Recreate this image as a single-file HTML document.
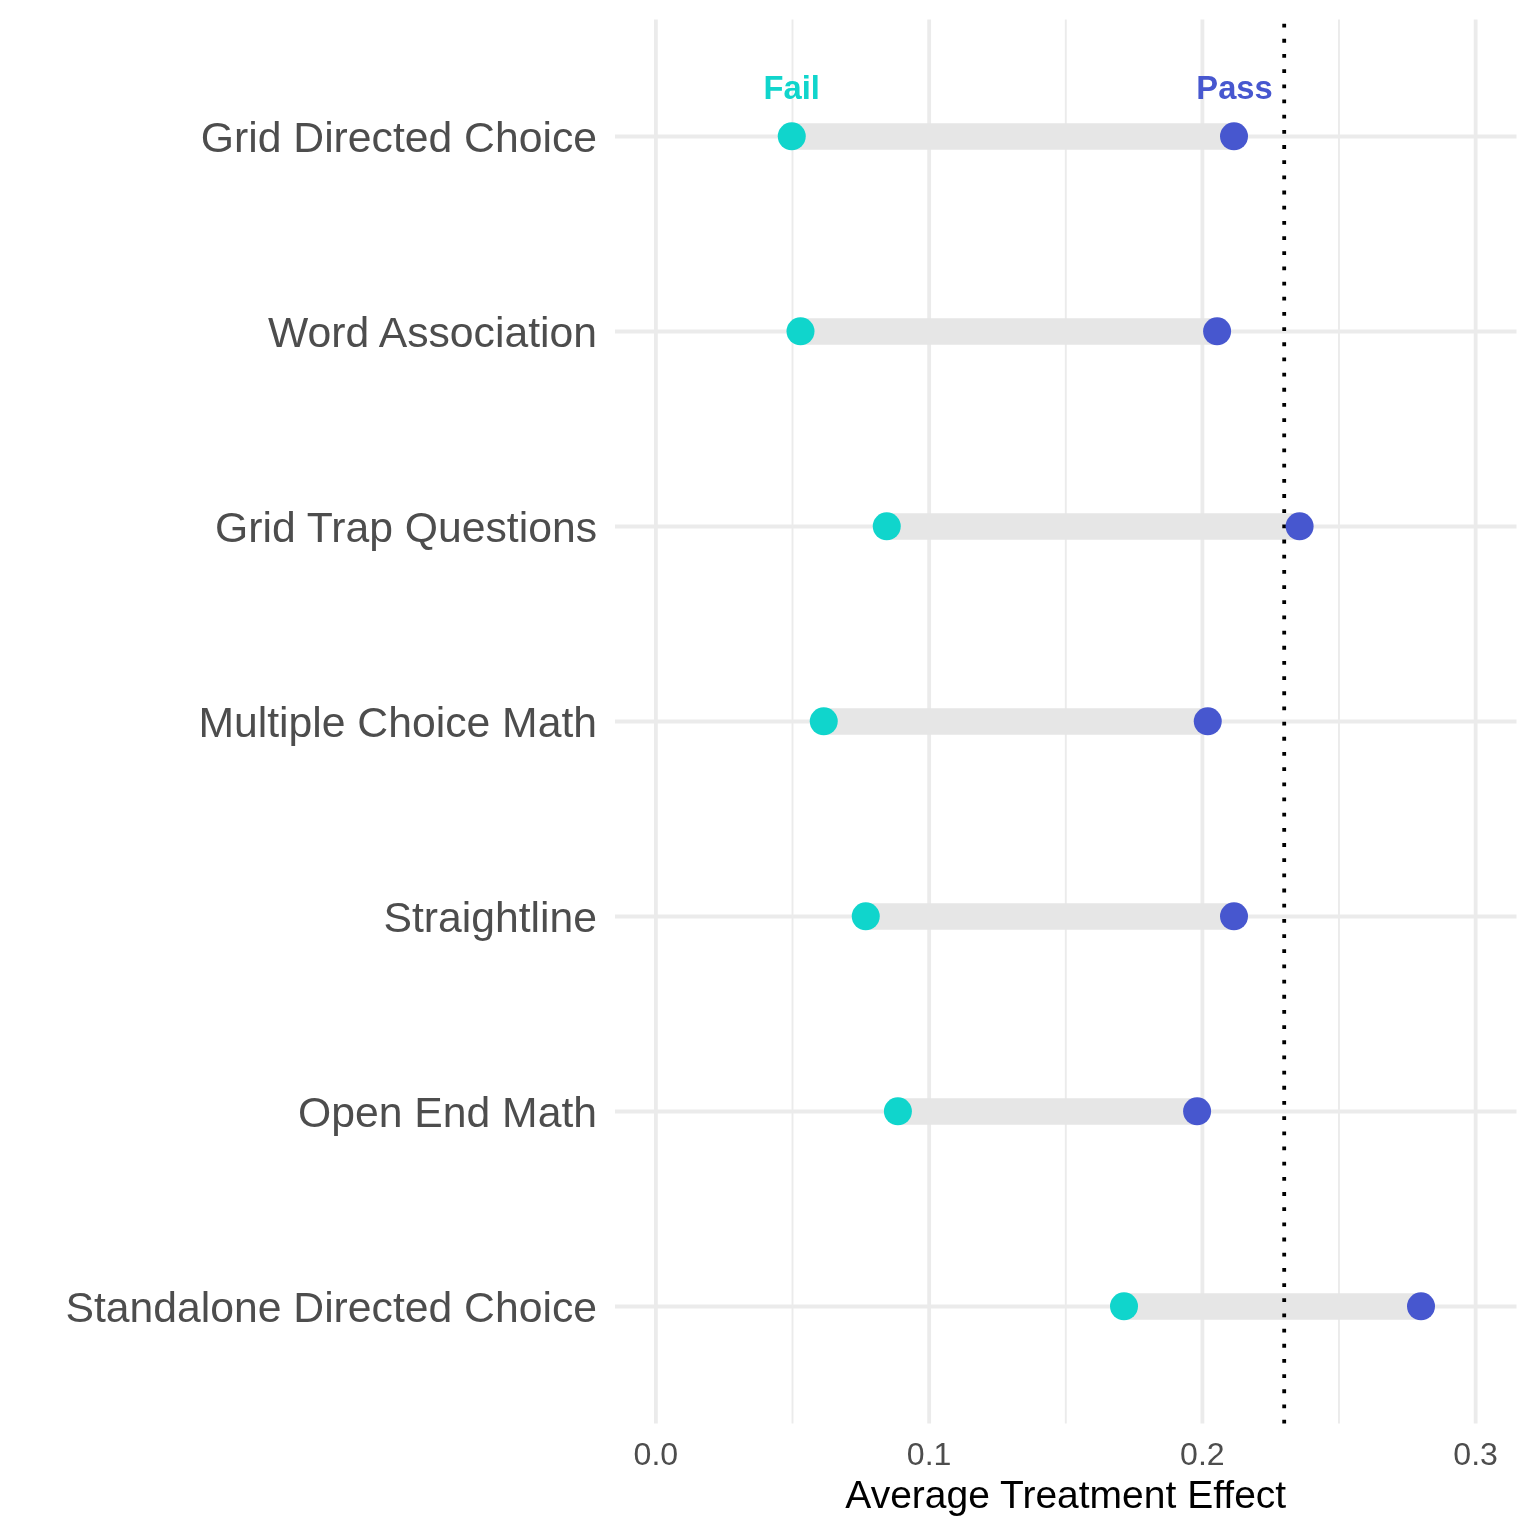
<!DOCTYPE html>
<html><head><meta charset="utf-8"><title>Average Treatment Effect</title>
<style>html,body{margin:0;padding:0;background:#fff}svg{display:block}text{font-family:"Liberation Sans",Arial,Helvetica,sans-serif}</style></head><body>
<svg width="1536" height="1536" viewBox="0 0 1536 1536">
<rect width="1536" height="1536" fill="#fff"/>
<g stroke="#ebebeb" fill="none">
<line x1="792.5" x2="792.5" y1="19.5" y2="1423.5" stroke-width="1.9"/>
<line x1="1065.8" x2="1065.8" y1="19.5" y2="1423.5" stroke-width="1.9"/>
<line x1="1339.0" x2="1339.0" y1="19.5" y2="1423.5" stroke-width="1.9"/>
<line x1="655.9" x2="655.9" y1="19.5" y2="1423.5" stroke-width="3.8"/>
<line x1="929.15" x2="929.15" y1="19.5" y2="1423.5" stroke-width="3.8"/>
<line x1="1202.4" x2="1202.4" y1="19.5" y2="1423.5" stroke-width="3.8"/>
<line x1="1475.65" x2="1475.65" y1="19.5" y2="1423.5" stroke-width="3.8"/>
<line x1="615" x2="1516.5" y1="136.50" y2="136.50" stroke-width="3.8"/>
<line x1="615" x2="1516.5" y1="331.50" y2="331.50" stroke-width="3.8"/>
<line x1="615" x2="1516.5" y1="526.50" y2="526.50" stroke-width="3.8"/>
<line x1="615" x2="1516.5" y1="721.50" y2="721.50" stroke-width="3.8"/>
<line x1="615" x2="1516.5" y1="916.50" y2="916.50" stroke-width="3.8"/>
<line x1="615" x2="1516.5" y1="1111.50" y2="1111.50" stroke-width="3.8"/>
<line x1="615" x2="1516.5" y1="1306.50" y2="1306.50" stroke-width="3.8"/>
</g>
<g stroke="#e6e6e6" stroke-width="26.5">
<line x1="791.75" x2="1234" y1="136.50" y2="136.50"/>
<line x1="800.5" x2="1217.1" y1="331.50" y2="331.50"/>
<line x1="886.75" x2="1299.6" y1="526.50" y2="526.50"/>
<line x1="823.75" x2="1207.75" y1="721.50" y2="721.50"/>
<line x1="865.75" x2="1234" y1="916.50" y2="916.50"/>
<line x1="897.9" x2="1197.1" y1="1111.50" y2="1111.50"/>
<line x1="1124" x2="1421" y1="1306.50" y2="1306.50"/>
</g>
<line x1="1284.2" x2="1284.2" y1="1423.5" y2="19.5" stroke="#000" stroke-width="3.8" stroke-dasharray="3.8 11.374"/>
<circle cx="791.75" cy="136.30" r="14.0" fill="#10d5cc"/><circle cx="1234" cy="136.30" r="14.0" fill="#4757cf"/>
<circle cx="800.5" cy="331.30" r="14.0" fill="#10d5cc"/><circle cx="1217.1" cy="331.30" r="14.0" fill="#4757cf"/>
<circle cx="886.75" cy="526.30" r="14.0" fill="#10d5cc"/><circle cx="1299.6" cy="526.30" r="14.0" fill="#4757cf"/>
<circle cx="823.75" cy="721.30" r="14.0" fill="#10d5cc"/><circle cx="1207.75" cy="721.30" r="14.0" fill="#4757cf"/>
<circle cx="865.75" cy="916.30" r="14.0" fill="#10d5cc"/><circle cx="1234" cy="916.30" r="14.0" fill="#4757cf"/>
<circle cx="897.9" cy="1111.30" r="14.0" fill="#10d5cc"/><circle cx="1197.1" cy="1111.30" r="14.0" fill="#4757cf"/>
<circle cx="1124" cy="1306.30" r="14.0" fill="#10d5cc"/><circle cx="1421" cy="1306.30" r="14.0" fill="#4757cf"/>
<g font-weight="bold" font-size="32.7" text-anchor="middle"><text x="791.75" y="99.25" fill="#10d5cc">Fail</text><text x="1234.5" y="99.25" fill="#4757cf">Pass</text></g>
<g font-size="42.7" text-anchor="end" fill="#4d4d4d">
<text x="597" y="151.90">Grid Directed Choice</text>
<text x="597" y="346.90">Word Association</text>
<text x="597" y="541.90">Grid Trap Questions</text>
<text x="597" y="736.90">Multiple Choice Math</text>
<text x="597" y="931.90">Straightline</text>
<text x="597" y="1126.90">Open End Math</text>
<text x="597" y="1321.90">Standalone Directed Choice</text>
</g>
<g font-size="32.1" text-anchor="middle" fill="#4d4d4d">
<text x="655.9" y="1464.8">0.0</text>
<text x="929.15" y="1464.8">0.1</text>
<text x="1202.4" y="1464.8">0.2</text>
<text x="1475.65" y="1464.8">0.3</text>
</g>
<text x="1065.75" y="1508" font-size="39" text-anchor="middle" fill="#000">Average Treatment Effect</text>
</svg></body></html>
